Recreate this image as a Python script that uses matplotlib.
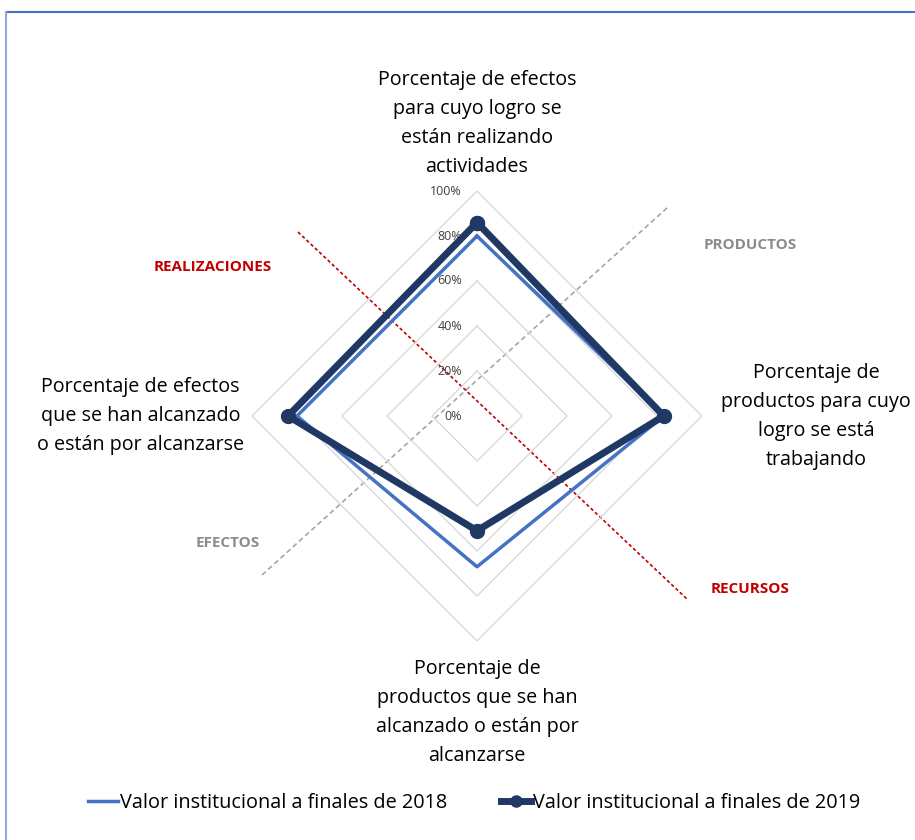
import numpy as np
import matplotlib
matplotlib.use("Agg")
import matplotlib.pyplot as plt
from matplotlib.lines import Line2D

plt.rcParams['font.family'] = ['Open Sans', 'DejaVu Sans']

# data, clockwise from the top axis
categories = [
    "Porcentaje de efectos\npara cuyo logro se\nestán realizando\nactividades",
    "Porcentaje de\nproductos para cuyo\nlogro se está\ntrabajando",
    "Porcentaje de\nproductos que se han\nalcanzado o están por\nalcanzarse",
    "Porcentaje de efectos\nque se han alcanzado\no están por alcanzarse",
]
valores_2018 = [0.80, 0.83, 0.67, 0.80]
valores_2019 = [0.86, 0.83, 0.51, 0.84]
niveles = [0.2, 0.4, 0.6, 0.8, 1.0]
etiquetas_nivel = ["0%", "20%", "40%", "60%", "80%", "100%"]
serie_nombres = ["Valor institucional a finales de 2018",
                 "Valor institucional a finales de 2019"]

W, H = 915, 840
fig = plt.figure(figsize=(W / 100, H / 100), dpi=100)

# overlay in pixel coordinates for frame and guide lines
ov = fig.add_axes([0, 0, 1, 1])
ov.set_xlim(0, W)
ov.set_ylim(H, 0)
ov.axis("off")
ov.plot([6, W], [12, 12], color="#4472C4", lw=1.5)
ov.plot([6, 6], [12, H], color="#8FAADC", lw=1.5)
ov.plot([262, 668], [575, 207], color="#A6A6A6", lw=1.2, ls=(0, (3, 2)))
ov.plot([298, 688], [232, 600], color="#C00000", lw=1.2, ls=(0, (2, 1.5)))
ov.text(750, 245, "PRODUCTOS", color="#8C8C8C", fontsize=11, fontweight="bold", ha="center", va="center")
ov.text(213, 267, "REALIZACIONES", color="#C00000", fontsize=11, fontweight="bold", ha="center", va="center")
ov.text(228, 543, "EFECTOS", color="#8C8C8C", fontsize=11, fontweight="bold", ha="center", va="center")
ov.text(750, 589, "RECURSOS", color="#C00000", fontsize=11, fontweight="bold", ha="center", va="center")

# radar axes: centre at (477, 416) px, radius 225 px
cx, cy, R = 477, 416, 225
ax = fig.add_axes([(cx - R) / W, (H - cy - R) / H, 2 * R / W, 2 * R / H], projection="polar")
ax.set_theta_offset(np.pi / 2)
ax.set_theta_direction(-1)
ax.set_ylim(0, 1)
ax.grid(False)
ax.spines["polar"].set_visible(False)
ax.set_xticks([])
ax.set_yticks([])
ax.patch.set_alpha(0)

n = len(categories)
ang = np.linspace(0, 2 * np.pi, n, endpoint=False)
ang_c = np.append(ang, ang[0])

for lv in niveles:
    ax.plot(ang_c, [lv] * (n + 1), color="#D9D9D9", lw=1.0, zorder=1)

v18 = np.append(valores_2018, valores_2018[0])
v19 = np.append(valores_2019, valores_2019[0])
ax.plot(ang_c, v18, color="#4472C4", lw=2.5, zorder=3, label=serie_nombres[0])
ax.plot(ang_c, v19, color="#203864", lw=5, marker="o", ms=10, zorder=4, label=serie_nombres[1])

for i, lab in enumerate(etiquetas_nivel):
    ax.annotate(lab, (0, i * 0.2), xytext=(-15, 0), textcoords="offset pixels",
                ha="right", va="center", fontsize=9, color="#404040")

fs = 14.2
ls = 1.6
ax.annotate(categories[0], (ang[0], 1.0), xytext=(0, 14), textcoords="offset pixels",
            ha="center", va="bottom", multialignment="center", fontsize=fs, linespacing=ls)
ax.annotate(categories[1], (ang[1], 1.0), xytext=(114, 0), textcoords="offset pixels",
            ha="center", va="center", multialignment="center", fontsize=fs, linespacing=ls)
ax.annotate(categories[2], (ang[2], 1.0), xytext=(0, -18), textcoords="offset pixels",
            ha="center", va="top", multialignment="center", fontsize=fs, linespacing=ls)
ax.annotate(categories[3], (ang[3], 1.0), xytext=(-8, 0), textcoords="offset pixels",
            ha="right", va="center", multialignment="center", fontsize=fs, linespacing=ls)

handles = [Line2D([], [], color="#4472C4", lw=2.5),
           Line2D([], [], color="#203864", lw=5, marker="o", ms=8)]
fig.legend(handles, serie_nombres, loc="center", bbox_to_anchor=(474 / W, 1 - 803 / H),
           ncol=2, frameon=False, fontsize=14.3, handlelength=1.5, handletextpad=0.1,
           columnspacing=2.7)

fig.savefig("out.png", dpi=100)
